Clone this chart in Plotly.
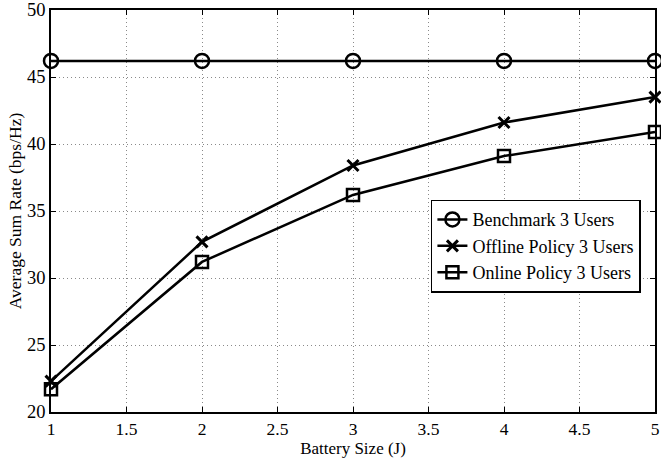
import plotly.graph_objects as go

battery = [1, 2, 3, 4, 5]
benchmark = [46.2, 46.2, 46.2, 46.2, 46.2]
offline = [22.3, 32.7, 38.4, 41.6, 43.5]
online = [21.7, 31.2, 36.2, 39.1, 40.9]

x_ticks = [1, 1.5, 2, 2.5, 3, 3.5, 4, 4.5, 5]
y_ticks = [20, 25, 30, 35, 40, 45, 50]

SERIF = "Liberation Serif, Times New Roman, serif"

fig = go.Figure()
fig.add_trace(go.Scatter(x=battery, y=benchmark, mode="lines+markers", name="Benchmark 3 Users",
                         line=dict(color="black", width=2.5),
                         marker=dict(symbol="circle-open", size=14, color="black", line=dict(width=2.5)),
                         cliponaxis=False))
fig.add_trace(go.Scatter(x=battery, y=offline, mode="lines+markers", name="Offline Policy 3 Users",
                         line=dict(color="black", width=2.5),
                         marker=dict(symbol="x-thin-open", size=11, color="black", line=dict(width=3, color="black")),
                         cliponaxis=False))
fig.add_trace(go.Scatter(x=battery, y=online, mode="lines+markers", name="Online Policy 3 Users",
                         line=dict(color="black", width=2.5),
                         marker=dict(symbol="square-open", size=12, color="black", line=dict(width=2.5)),
                         cliponaxis=False))

axis_common = dict(showline=True, linecolor="black", linewidth=1.5, mirror="ticks",
                   ticks="inside", ticklen=5, tickcolor="black",
                   showgrid=True, gridcolor="#8a8a8a", griddash="1px,3px", gridwidth=1,
                   zeroline=False, automargin=False)

fig.update_xaxes(range=[1, 5], tickvals=x_ticks, ticktext=[str(v) for v in x_ticks],
                 tickfont=dict(family=SERIF, size=17.5, color="black"),
                 title=dict(text="Battery Size (J)", font=dict(family=SERIF, size=17, color="black"), standoff=5),
                 **axis_common)
fig.update_yaxes(range=[20, 50], tickvals=y_ticks,
                 tickfont=dict(family=SERIF, size=18.5, color="black"),
                 title=dict(text="Average Sum Rate (bps/Hz)", font=dict(family=SERIF, size=17.5, color="black"), standoff=1),
                 **axis_common)

fig.update_layout(
    width=661, height=458,
    margin=dict(l=51, r=6, t=10, b=46),
    plot_bgcolor="white", paper_bgcolor="white",
    legend=dict(x=0.629, y=0.528, xanchor="left", yanchor="top",
                bgcolor="white", bordercolor="black", borderwidth=1.5,
                font=dict(family=SERIF, size=18, color="black"),
                itemwidth=30, tracegroupgap=0),
    showlegend=True,
)

fig.write_html("out.html")
